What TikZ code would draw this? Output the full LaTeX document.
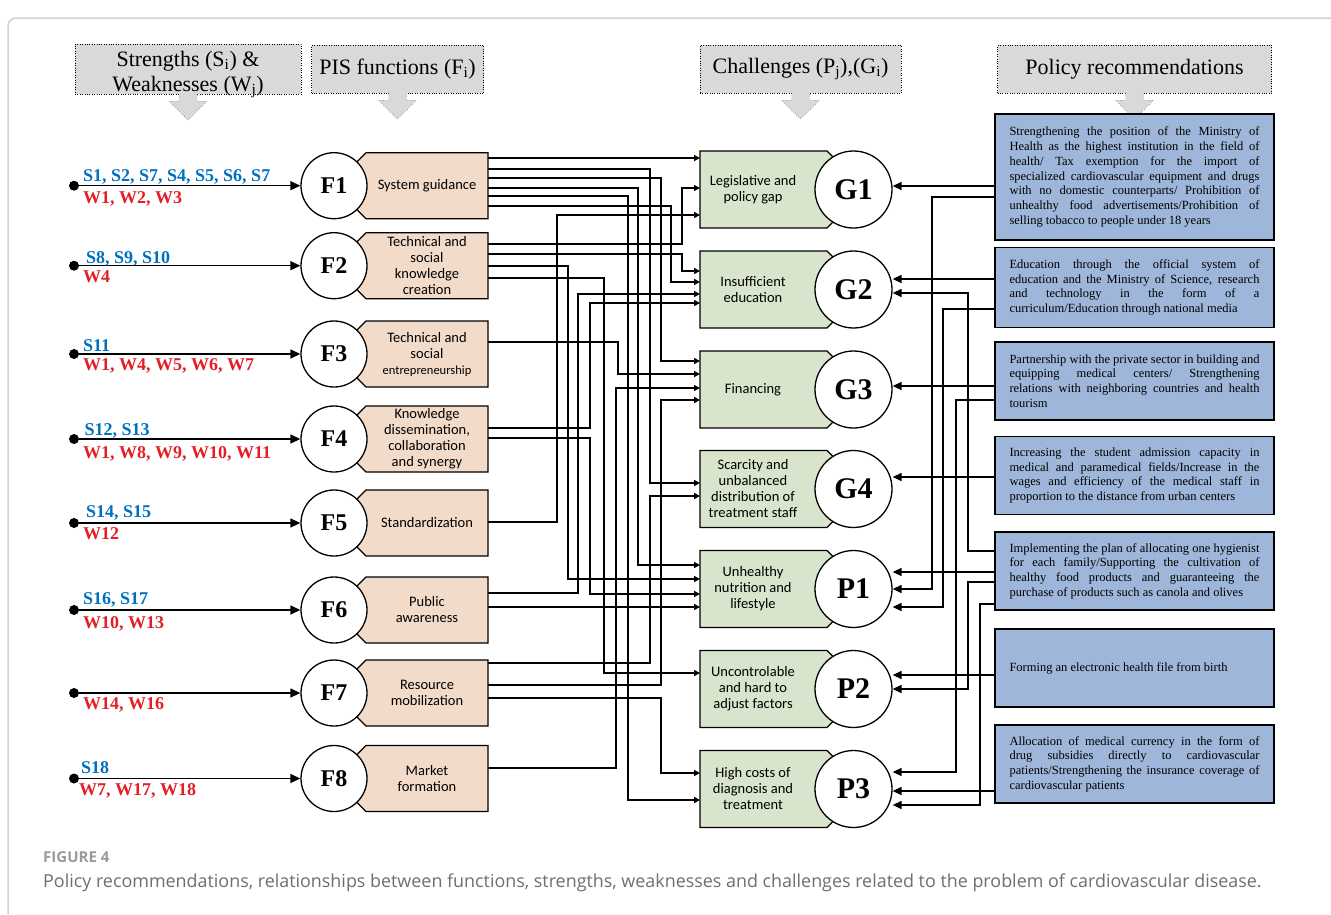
\documentclass[tikz,border=0pt]{standalone}
\usepackage{fontspec}
\setmainfont{Liberation Serif}
\newfontfamily\calibri{Carlito}
\newfontfamily\capsans{Open Sans}
\usetikzlibrary{
  arrows.meta,
  positioning,
  backgrounds,  % polygons of the boxes go below the circles
  calc,
}
\definecolor{fpeach}{HTML}{F2DBC9}
\definecolor{ggreen}{HTML}{D8E4CB}
\definecolor{rblue}{HTML}{9EB6D9}
\definecolor{hgray}{HTML}{D9D9D9}
\definecolor{sblue}{HTML}{0070C0}
\definecolor{wred}{HTML}{E31E24}
\definecolor{capgray}{HTML}{6E6E6E}
\definecolor{figgray}{HTML}{9A9A9A}
\definecolor{framegray}{HTML}{D0D0D0}
% one justified line of a policy box
\newcommand{\jl}[1]{\leavevmode\hbox to 250pt{\spaceskip=0pt\xspaceskip=0pt #1}\\}
\tikzset{
  hdr/.style={
    draw,
    dotted,
    fill=hgray,
    minimum height=48pt,
    inner sep=0pt,
    align=center,
    font=\fontsize{22}{25}\selectfont
  },
  hdr arrow/.style={
    fill=hgray,
    draw,
    dotted
  },
  fcirc/.style={
    circle,
    draw,
    fill=white,
    line width=1.3pt,
    minimum size=66pt,
    inner sep=0pt,
    font=\fontsize{24}{24}\selectfont\bfseries
  },
  gcirc/.style={
    fcirc,
    minimum size=77pt,
    font=\fontsize{30}{30}\selectfont\bfseries
  },
  fbox/.style={
    minimum width=122pt,
    minimum height=66pt,
    inner sep=0pt,
    outer sep=0pt,
    align=center,
    font=\calibri\fontsize{14.5}{16}\selectfont
  },
  gbox/.style={
    fbox,
    minimum width=106pt,
    minimum height=77pt
  },
  fshape/.style={fill=fpeach, draw, line width=1.3pt},
  gshape/.style={fill=ggreen, draw, line width=1.3pt},
  pol/.style={
    draw,
    fill=rblue,
    line width=1.6pt,
    minimum width=279pt,
    inner sep=0pt,
    text width=250pt,
    align=flush left,
    font=\fontsize{12.5}{14.7}\selectfont
  },
  dot/.style={circle, fill, inner sep=0pt, minimum size=10pt},
  slab/.style={
    anchor=base west,
    inner sep=0pt,
    text=sblue,
    font=\fontsize{18}{18}\selectfont\bfseries
  },
  wlab/.style={slab, text=wred},
  in arrow/.style={-{Triangle[length=10pt,width=9pt]}, line width=1.4pt},
  wire/.style={-{Triangle[length=6pt,width=6pt]}, line width=1.4pt},
  back wire/.style={-{Triangle[length=9pt,width=8pt]}, line width=1.4pt}
}
\begin{document}
\begin{tikzpicture}[x=1pt, y=-1pt]
\useasboundingbox (0,0) rectangle (1331,914);
\draw[framegray, line width=1.5pt, rounded corners=8pt] (8,914) -- (8,18) -- (1340,18);

% column headers
\node[hdr, minimum width=226pt] (H1) at (188,69) {\raisebox{-5pt}[\height][\depth]{\begin{tabular}{@{}c@{}}Strengths (S\textsubscript{i}) \&\\Weaknesses (W\textsubscript{j})\end{tabular}}};
\node[hdr, minimum width=172pt] (H2) at (397.5,69) {PIS functions (F\textsubscript{i})};
\node[hdr, minimum width=201pt] (H3) at (800.5,69) {Challenges (P\textsubscript{j}),(G\textsubscript{i})};
\node[hdr, minimum width=274pt] (H4) at (1134.5,69) {Policy recommendations};
\foreach \h in {H1,H2,H3,H4}
  \filldraw[hdr arrow] ($(\h.south)+(-9,0)$) -- ++(0,7) -- ++(-10,0) -- ($(\h.south)+(0,26)$)
    -- ($(\h.south)+(19,7)$) -- ++(-10,0) -- ++(0,-7);

% functions F1..F8
\foreach \i/\y/\t in {
  1/185.7/{System guidance},
  2/265.7/{Technical and\\social\\knowledge\\creation},
  3/354/{Technical and\\social\\{\fontsize{12.5}{14}\selectfont entrepreneurship}},
  4/439/{Knowledge\\dissemination,\\collaboration\\and synergy},
  5/523/{Standardization},
  6/610/{Public\\awareness},
  7/693/{Resource\\mobilization},
  8/778.5/{Market\\formation}}{
  \node[fbox] (boxF\i) at (427,\y) {\t};
  \node[fcirc] (F\i) at (334,\y) {F\i};
  \node[dot] (d\i) at (74,\y) {};
  \draw[in arrow] (d\i) -- (F\i);
}

% strengths and weaknesses
\node[slab] (s1) at (83,181) {S1, S2, S7, S4, S5, S6, S7};
\node[wlab] (w1) at (83,203) {W1, W2, W3};
\node[slab] (s2) at (86,263) {S8, S9, S10};
\node[wlab] (w2) at (83,282) {W4};
\node[slab] (s3) at (83,351) {S11};
\node[wlab] (w3) at (83,370.5) {W1, W4, W5, W6, W7};
\node[slab] (s4) at (84.5,435) {S12, S13};
\node[wlab] (w4) at (83,458) {W1, W8, W9, W10, W11};
\node[slab] (s5) at (86,517.5) {S14, S15};
\node[wlab] (w5) at (83,539) {W12};
\node[slab] (s6) at (83,604) {S16, S17};
\node[wlab] (w6) at (83,628) {W10, W13};
\node[wlab] (w7) at (83,709.3) {W14, W16};
\node[slab] (s8) at (81,773) {S18};
\node[wlab] (w8) at (79,795.6) {W7, W17, W18};

% challenges
\foreach \n/\y/\t in {
  G1/189.5/{Legislative and\\policy gap},
  G2/289.5/{Insufficient\\education},
  G3/389.5/{Financing},
  G4/489/{Scarcity and\\unbalanced\\distribution of\\treatment staff},
  P1/589/{Unhealthy\\nutrition and\\lifestyle},
  P2/689/{Uncontrolable\\and hard to\\adjust factors},
  P3/789/{High costs of\\diagnosis and\\treatment}}{
  \node[gbox] (box\n) at (753,\y) {\t};
  \node[gcirc] (\n) at (853.5,\y) {\n};
}

\begin{scope}[on background layer]
  \foreach \i in {1,...,8}
    \filldraw[fshape] (boxF\i.north west) -- (boxF\i.north east) -- (boxF\i.south east)
      -- (boxF\i.south west) -- ([xshift=-33pt]boxF\i.west) -- cycle;
  \foreach \n in {G1,G2,G3,G4,P1,P2,P3}
    \filldraw[gshape] (box\n.north west) -- ([xshift=21pt]box\n.north east) -- ([xshift=59.5pt]box\n.east)
      -- ([xshift=21pt]box\n.south east) -- (box\n.south west) -- cycle;
\end{scope}

% policy recommendations
\node[pol, minimum height=126pt] (R1) at (1134.5,177) {
  \jl{Strengthening the position of the Ministry of}
  \jl{Health as the highest institution in the field of}
  \jl{health/ Tax exemption for the import of}
  \jl{specialized cardiovascular equipment and drugs}
  \jl{with no domestic counterparts/ Prohibition of}
  \jl{unhealthy food advertisements/Prohibition of}
  selling tobacco to people under 18 years};
\node[pol, minimum height=80pt] (R2) at (1134.5,287.5) {
  \jl{Education through the official system of}
  \jl{education and the Ministry of Science, research}
  \jl{and technology in the form of a}
  curriculum/Education through national media};
\node[pol, minimum height=78pt] (R3) at (1134.5,381) {
  \jl{Partnership with the private sector in building and}
  \jl{equipping medical centers/ Strengthening}
  \jl{relations with neighboring countries and health}
  tourism};
\node[pol, minimum height=78pt] (R4) at (1134.5,475.5) {
  \jl{Increasing the student admission capacity in}
  \jl{medical and paramedical fields/Increase in the}
  \jl{wages and efficiency of the medical staff in}
  proportion to the distance from urban centers};
\node[pol, minimum height=78pt] (R5) at (1134.5,571) {
  \jl{Implementing the plan of allocating one hygienist}
  \jl{for each family/Supporting the cultivation of}
  \jl{healthy food products and guaranteeing the}
  purchase of products such as canola and olives};
\node[pol, minimum height=78pt] (R6) at (1134.5,668) {Forming an electronic health file from birth};
\node[pol, minimum height=78pt] (R7) at (1134.5,764) {
  \jl{Allocation of medical currency in the form of}
  \jl{drug subsidies directly to cardiovascular}
  \jl{patients/Strengthening the insurance coverage of}
  cardiovascular patients};

% functions -> challenges (source, y, x of the riser, y, target)
\foreach \s/\sy/\vx/\ty/\t in {
  F1/158/600/158/G1, F1/169/650/483/G4, F1/178/661/361/G3, F1/188/638/565/P1,
  F1/196/628/800/P3, F1/206/671/282/G2,
  F2/244/682/188/G1, F2/254/682/271/G2, F2/266/568/579/P1, F2/278/604/673/P2,
  F3/342/618/374/G3,
  F4/428/590/303/G2, F4/438/590/594/P1,
  F5/522/557/215/G1,
  F6/593/578/294/G2, F6/607/600/607/P1,
  F7/663/650/496/G4, F7/685/661/400/G3, F7/698/661/773/P3,
  F8/768/616/388/G3}
  \draw[wire] (box\s.east |- 0,\sy) -| (\vx,\ty) -- (box\t.west |- 0,\ty);

% recommendations -> challenges
\foreach \s/\sy/\vx/\ty/\t in {
  R1/186/940/186/G1, R1/197/932/589/P1,
  R2/279/940/279/G2, R2/309/943/607/P1,
  R3/386/940/386/G3, R3/400/956/772/P3,
  R4/477/940/477/G4,
  R5/551/968/293/G2, R5/572/940/572/P1, R5/582/968/689/P2, R5/604/980/805/P3,
  R6/675/940/675/P2,
  R7/791/940/791/P3}
  \draw[back wire] (\s.west |- 0,\sy) -| (\vx,\ty) -- (\t.east |- 0,\ty);

% caption
\node[anchor=base west, inner sep=0pt, text=figgray, font=\capsans\bfseries\fontsize{15}{15}\selectfont] (fig) at (43,862) {FIGURE 4};
\node[anchor=base west, inner sep=0pt, text=capgray, font=\capsans\fontsize{17.9}{20}\selectfont] (cap) at (43,887) {Policy recommendations, relationships between functions, strengths, weaknesses and challenges related to the problem of cardiovascular disease.};
\end{tikzpicture}
\end{document}
